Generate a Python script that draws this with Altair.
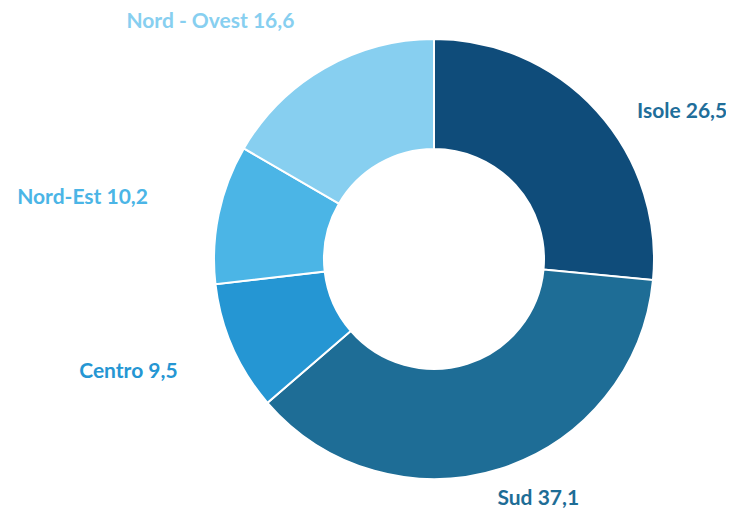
import altair as alt
import pandas as pd

categories = ["Isole", "Sud", "Centro", "Nord-Est", "Nord - Ovest"]
values = [26.5, 37.1, 9.5, 10.2, 16.6]
groups = ["right", "bottom", "left", "midleft", "top"]
slice_colors = ["#0F4C7A", "#1E6D96", "#2596D3", "#4BB5E6", "#87CFF0"]
label_colors = ["#1F6E9A", "#1E6D96", "#2596D3", "#4BB5E6", "#87CFF0"]

df = pd.DataFrame({
    "cat": categories,
    "val": values,
    "ord": list(range(len(categories))),
    "grp": groups,
    "label": [f"{c} {v:.1f}".replace(".", ",") for c, v in zip(categories, values)],
})

cx, cy = 426, 251

base = alt.Chart(df).encode(
    theta=alt.Theta("val:Q", stack=True),
    order=alt.Order("ord:Q"),
    x=alt.value(cx),
    y=alt.value(cy),
)

arcs = base.mark_arc(innerRadius=110, outerRadius=220, stroke="white", strokeWidth=2).encode(
    color=alt.Color("cat:N", scale=alt.Scale(domain=categories, range=slice_colors), legend=None)
)

def labels(grp, align, radius, dx=0, dy=0):
    return base.transform_calculate(
        t=f"datum.grp == '{grp}' ? datum.label : ''"
    ).mark_text(radius=radius, align=align, baseline="middle", dx=dx, dy=dy,
                font="Lato", fontSize=21, fontWeight="bold").encode(
        text="t:N",
        color=alt.Color("cat:N", scale=alt.Scale(domain=categories, range=label_colors), legend=None),
    )

chart = alt.layer(
    arcs,
    labels("right", "left", 258, dx=12, dy=26),
    labels("bottom", "left", 252, dx=-13),
    labels("left", "right", 280),
    labels("midleft", "right", 280, dx=-12, dy=-4),
    labels("top", "right", 280, dy=6),
).resolve_scale(
    color="independent"
).properties(
    width=718, height=501, padding=0, autosize=alt.AutoSizeParams(type="none")
).configure_view(stroke=None)

chart.save("out.html", embed_options={"renderer": "svg", "actions": False})
